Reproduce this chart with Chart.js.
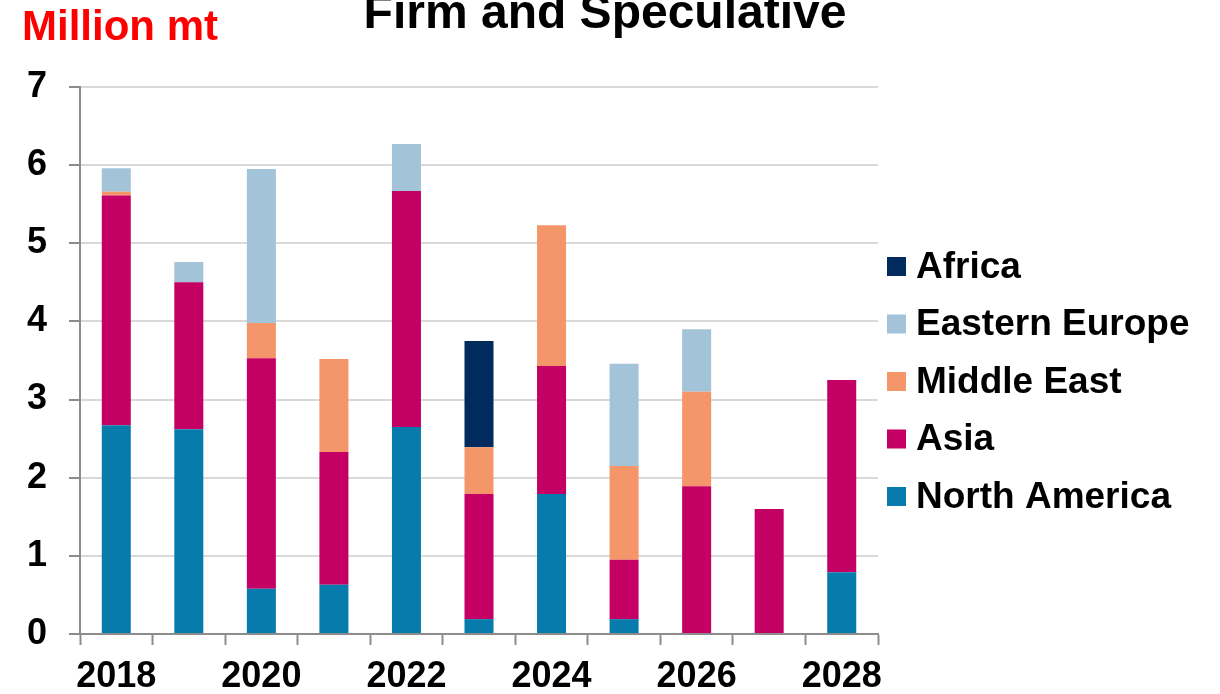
<!DOCTYPE html>
<html>
<head>
<meta charset="utf-8">
<script src="https://cdn.jsdelivr.net/npm/chart.js@4/dist/chart.umd.min.js"></script>
<style>
  html, body { margin: 0; padding: 0; background: #fff; }
  canvas { display: block; }
</style>
</head>
<body>
<canvas id="chart" width="1220" height="694"></canvas>
<script>
// data (million mt)
var years = ['2018', '2019', '2020', '2021', '2022', '2023', '2024', '2025', '2026', '2027', '2028'];
var northAmerica  = [2.67, 2.62, 0.58, 0.63, 2.65, 0.19, 1.79, 0.19, 0, 0, 0.79];
var asia          = [2.94, 1.88, 2.95, 1.70, 3.02, 1.60, 1.64, 0.76, 1.89, 1.60, 2.46];
var middleEast    = [0.05, 0, 0.45, 1.19, 0, 0.60, 1.80, 1.20, 1.21, 0, 0];
var easternEurope = [0.30, 0.26, 1.97, 0, 0.60, 0, 0, 1.31, 0.80, 0, 0];
var africa        = [0, 0, 0, 0, 0, 1.36, 0, 0, 0, 0, 0];
var yTicks = [0, 1, 2, 3, 4, 5, 6, 7];

var FONT = "'Liberation Sans', Arial, sans-serif";

var data = {
  labels: years,
  datasets: [
    { label: 'North America', data: northAmerica, backgroundColor: '#077bab' },
    { label: 'Asia', data: asia, backgroundColor: '#c40065' },
    { label: 'Middle East', data: middleEast, backgroundColor: '#f5966a' },
    { label: 'Eastern Europe', data: easternEurope, backgroundColor: '#a3c3d9' },
    { label: 'Africa', data: africa, backgroundColor: '#002b5c' }
  ]
};

// titles + legend drawn by hand so they sit where the original has them
var extras = {
  id: 'extras',
  afterDraw: function(chart) {
    var ctx = chart.ctx;
    ctx.save();
    ctx.textBaseline = 'alphabetic';
    ctx.fillStyle = '#ff0000';
    ctx.textAlign = 'left';
    ctx.font = 'bold 42px ' + FONT;
    ctx.fillText('Million mt', 22, 40);

    ctx.fillStyle = '#000';
    ctx.textAlign = 'center';
    ctx.font = 'bold 48px ' + FONT;
    ctx.fillText('Firm and Speculative', 605, 28);

    // legend, top to bottom = reverse of stacking order
    var sets = chart.data.datasets.slice().reverse();
    ctx.font = 'bold 37px ' + FONT;
    ctx.textAlign = 'left';
    ctx.textBaseline = 'middle';
    sets.forEach(function(ds, i) {
      var cy = 266.5 + i * 57.5;
      ctx.fillStyle = ds.backgroundColor;
      ctx.fillRect(887, cy - 9.5, 19, 19);
      ctx.fillStyle = '#000';
      ctx.fillText(ds.label, 916, cy + 1);
    });
    ctx.restore();
  }
};

new Chart(document.getElementById('chart'), {
  type: 'bar',
  data: data,
  plugins: [extras],
  options: {
    responsive: false,
    animation: false,
    devicePixelRatio: 1,
    layout: { padding: { top: 87, right: 342, left: 0, bottom: 0 } },
    plugins: {
      legend: { display: false },
      title: { display: false },
      tooltip: { enabled: false }
    },
    datasets: {
      bar: { categoryPercentage: 1, barPercentage: 0.4, borderWidth: 0 }
    },
    scales: {
      x: {
        stacked: true,
        afterFit: function(scale) { scale.height = 60; },
        border: { color: '#8c8c8c', width: 2 },
        grid: {
          offset: true,
          drawOnChartArea: false,
          tickLength: 11,
          tickColor: '#8c8c8c',
          tickWidth: 2
        },
        ticks: {
          autoSkip: false,
          maxRotation: 0,
          padding: 10,
          color: '#000',
          font: { family: FONT, size: 36, weight: 'bold' },
          callback: function(v, i) { return i % 2 === 0 ? years[i] : ''; }
        }
      },
      y: {
        stacked: true,
        min: yTicks[0],
        max: yTicks[yTicks.length - 1],
        afterFit: function(scale) { scale.width = 80; },
        border: { color: '#8c8c8c', width: 2 },
        grid: {
          color: '#d9d9d9',
          lineWidth: 2,
          tickLength: 11,
          tickColor: '#8c8c8c',
          tickWidth: 2
        },
        ticks: {
          stepSize: 1,
          padding: 22,
          color: '#000',
          font: { family: FONT, size: 36, weight: 'bold' }
        }
      }
    }
  }
});
</script>
</body>
</html>
